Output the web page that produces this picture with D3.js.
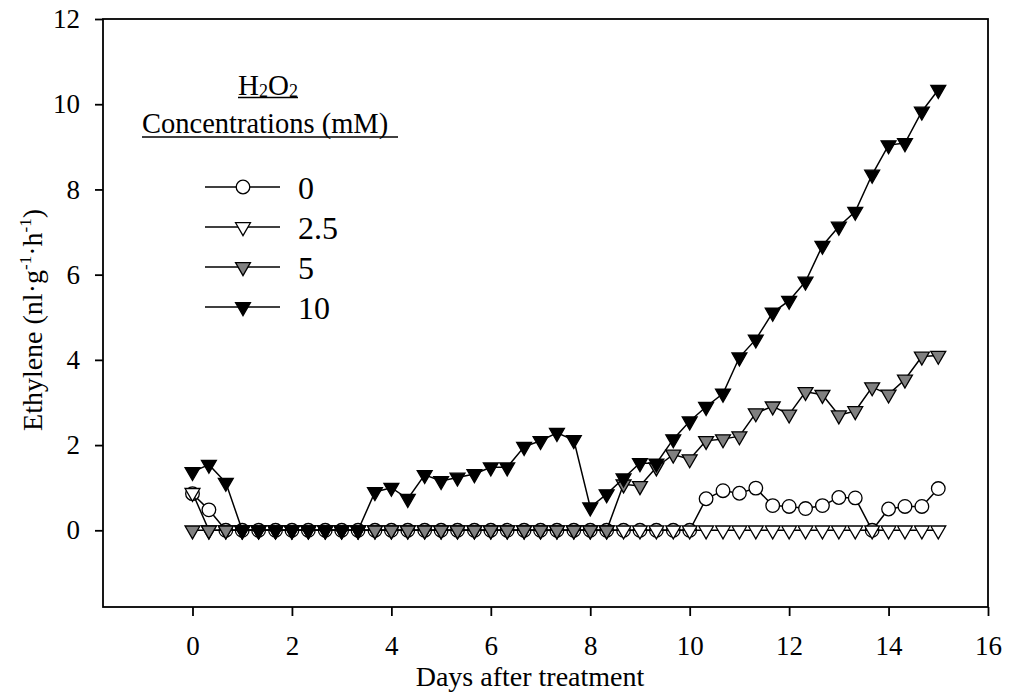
<!DOCTYPE html>
<html>
<head>
<meta charset="utf-8">
<script src="https://cdn.jsdelivr.net/npm/d3@7"></script>
<style>
  body { margin: 0; background: #fff; }
  svg { display: block; }
</style>
</head>
<body>
<svg id="chart" width="1010" height="695"></svg>
<script>
// Sampling times (days after treatment), every 8 h
const days = [0, 0.33, 0.67, 1, 1.33, 1.67, 2, 2.33, 2.67, 3, 3.33, 3.67, 4, 4.33, 4.67,
  5, 5.33, 5.67, 6, 6.33, 6.67, 7, 7.33, 7.67, 8, 8.33, 8.67, 9, 9.33, 9.67, 10,
  10.33, 10.67, 11, 11.33, 11.67, 12, 12.33, 12.67, 13, 13.33, 13.67, 14, 14.33, 14.67, 15];

// Ethylene production (nl·g-1·h-1) for each H2O2 concentration
const conc0 = [0.86, 0.48, 0, 0, 0, 0, 0, 0, 0, 0, 0, 0, 0, 0, 0,
  0, 0, 0, 0, 0, 0, 0, 0, 0, 0, 0, 0, 0, 0, 0, 0,
  0.74, 0.93, 0.87, 0.99, 0.58, 0.56, 0.51, 0.58, 0.77, 0.76, 0, 0.50, 0.56, 0.56, 0.98];
const conc2_5 = [0.88, 0, 0, 0, 0, 0, 0, 0, 0, 0, 0, 0, 0, 0, 0,
  0, 0, 0, 0, 0, 0, 0, 0, 0, 0, 0, 0, 0, 0, 0, 0,
  0, 0, 0, 0, 0, 0, 0, 0, 0, 0, 0, 0, 0, 0, 0];
const conc5 = [0, 0, 0, 0, 0, 0, 0, 0, 0, 0, 0, 0, 0, 0, 0,
  0, 0, 0, 0, 0, 0, 0, 0, 0, 0, 0, 1.08, 1.04, 1.48, 1.78, 1.67,
  2.10, 2.14, 2.21, 2.75, 2.91, 2.72, 3.25, 3.18, 2.70, 2.80, 3.36, 3.19, 3.54, 4.08, 4.10];
const conc10 = [1.37, 1.54, 1.12, 0, 0, 0, 0, 0, 0, 0, 0, 0.90, 1.00, 0.74, 1.30,
  1.16, 1.24, 1.32, 1.48, 1.48, 1.96, 2.10, 2.29, 2.12, 0.54, 0.85, 1.22, 1.58, 1.57, 2.14, 2.56,
  2.90, 3.21, 4.06, 4.48, 5.11, 5.39, 5.84, 6.68, 7.13, 7.48, 8.35, 9.04, 9.09, 9.83, 10.34];

const seriesLabels = ["0", "2.5", "5", "10"];
const xTicks = [0, 2, 4, 6, 8, 10, 12, 14, 16];
const yTicks = [0, 2, 4, 6, 8, 10, 12];

const FONT = "'Liberation Serif', 'Times New Roman', serif";
const svg = d3.select("#chart");

const x = d3.scaleLinear().domain([-1.8, 16]).range([103, 988]);
const y = d3.scaleLinear().domain([-1.8, 12]).range([607, 19]);

// Down-pointing equilateral triangle centred on its centroid; size = circumradius²
const triangleDown = {
  draw(ctx, size) {
    const r = Math.sqrt(size);
    const hw = r * Math.sqrt(3) / 2;
    ctx.moveTo(0, r);
    ctx.lineTo(-hw, -r / 2);
    ctx.lineTo(hw, -r / 2);
    ctx.closePath();
  }
};

const circleSym = d3.symbol().type(d3.symbolCircle).size(Math.PI * 6.8 * 6.8)();
const triSym = d3.symbol().type(triangleDown).size(8.6 * 8.6)();

const series = [
  { label: seriesLabels[0], values: conc0, path: circleSym, fill: "#ffffff" },
  { label: seriesLabels[1], values: conc2_5, path: triSym, fill: "#ffffff" },
  { label: seriesLabels[2], values: conc5, path: triSym, fill: "#808080" },
  { label: seriesLabels[3], values: conc10, path: triSym, fill: "#000000" }
];

// Axes
const gx = svg.append("g")
  .attr("transform", "translate(0,607)")
  .call(d3.axisBottom(x).tickValues(xTicks).tickSize(9).tickPadding(20).tickSizeOuter(0));
gx.select(".domain").remove();
gx.attr("font-family", FONT).attr("font-size", 27);
gx.selectAll(".tick line").attr("stroke", "#000").attr("stroke-width", 1.8);
gx.selectAll(".tick text").attr("fill", "#000");

const gy = svg.append("g")
  .attr("transform", "translate(103,0)")
  .call(d3.axisLeft(y).tickValues(yTicks).tickSize(8).tickPadding(15).tickSizeOuter(0));
gy.select(".domain").remove();
gy.attr("font-family", FONT).attr("font-size", 27);
gy.selectAll(".tick line").attr("stroke", "#000").attr("stroke-width", 1.8);
gy.selectAll(".tick text").attr("fill", "#000");

// Plot frame
svg.append("rect")
  .attr("x", x.range()[0]).attr("y", y.range()[1])
  .attr("width", x.range()[1] - x.range()[0])
  .attr("height", y.range()[0] - y.range()[1])
  .attr("fill", "none").attr("stroke", "#000").attr("stroke-width", 1.8);

// Series: connecting line, then symbols
const line = d3.line().x((d, i) => x(days[i])).y(d => y(d));
series.forEach(s => {
  const g = svg.append("g");
  g.append("path")
    .attr("d", line(s.values))
    .attr("fill", "none").attr("stroke", "#000").attr("stroke-width", 1.5);
  g.selectAll("path.pt").data(s.values).join("path")
    .attr("class", "pt")
    .attr("d", s.path)
    .attr("transform", (d, i) => `translate(${x(days[i])},${y(d)})`)
    .attr("fill", s.fill).attr("stroke", "#000").attr("stroke-width", 1.3);
});

// Axis titles
svg.append("text")
  .attr("x", 530).attr("y", 686)
  .attr("text-anchor", "middle")
  .attr("font-family", FONT).attr("font-size", 28)
  .text("Days after treatment");

const yt = svg.append("text")
  .attr("transform", "translate(42,320) rotate(-90)")
  .attr("text-anchor", "middle")
  .attr("font-family", FONT).attr("font-size", 28);
yt.append("tspan").text("Ethylene (nl·g");
yt.append("tspan").attr("font-size", 17).attr("dy", -11).text("-1");
yt.append("tspan").attr("dy", 11).text("·h");
yt.append("tspan").attr("font-size", 17).attr("dy", -11).text("-1");
yt.append("tspan").attr("dy", 11).text(")");

// Legend
const lt = svg.append("text")
  .attr("x", 238).attr("y", 94.5)
  .attr("font-family", FONT).attr("font-size", 29);
lt.append("tspan").text("H");
lt.append("tspan").attr("font-size", 18).attr("dy", 2.5).text("2");
lt.append("tspan").attr("dy", -2.5).text("O");
lt.append("tspan").attr("font-size", 18).attr("dy", 2.5).text("2");
svg.append("line").attr("x1", 238).attr("x2", 298).attr("y1", 97.5).attr("y2", 97.5)
  .attr("stroke", "#000").attr("stroke-width", 1.5);

svg.append("text")
  .attr("x", 142).attr("y", 133)
  .attr("font-family", FONT).attr("font-size", 28.5)
  .text("Concentrations (mM)");
svg.append("line").attr("x1", 142).attr("x2", 398).attr("y1", 137).attr("y2", 137)
  .attr("stroke", "#000").attr("stroke-width", 1.5);

const legendRows = [187, 227, 267, 307];
series.forEach((s, k) => {
  const ry = legendRows[k];
  svg.append("line").attr("x1", 205).attr("x2", 280).attr("y1", ry).attr("y2", ry)
    .attr("stroke", "#000").attr("stroke-width", 1.5);
  svg.append("path").attr("d", s.path)
    .attr("transform", `translate(243,${ry})`)
    .attr("fill", s.fill).attr("stroke", "#000").attr("stroke-width", 1.3);
  svg.append("text")
    .attr("x", 298).attr("y", ry + 11.5)
    .attr("font-family", FONT).attr("font-size", 32)
    .text(s.label);
});
</script>
</body>
</html>
